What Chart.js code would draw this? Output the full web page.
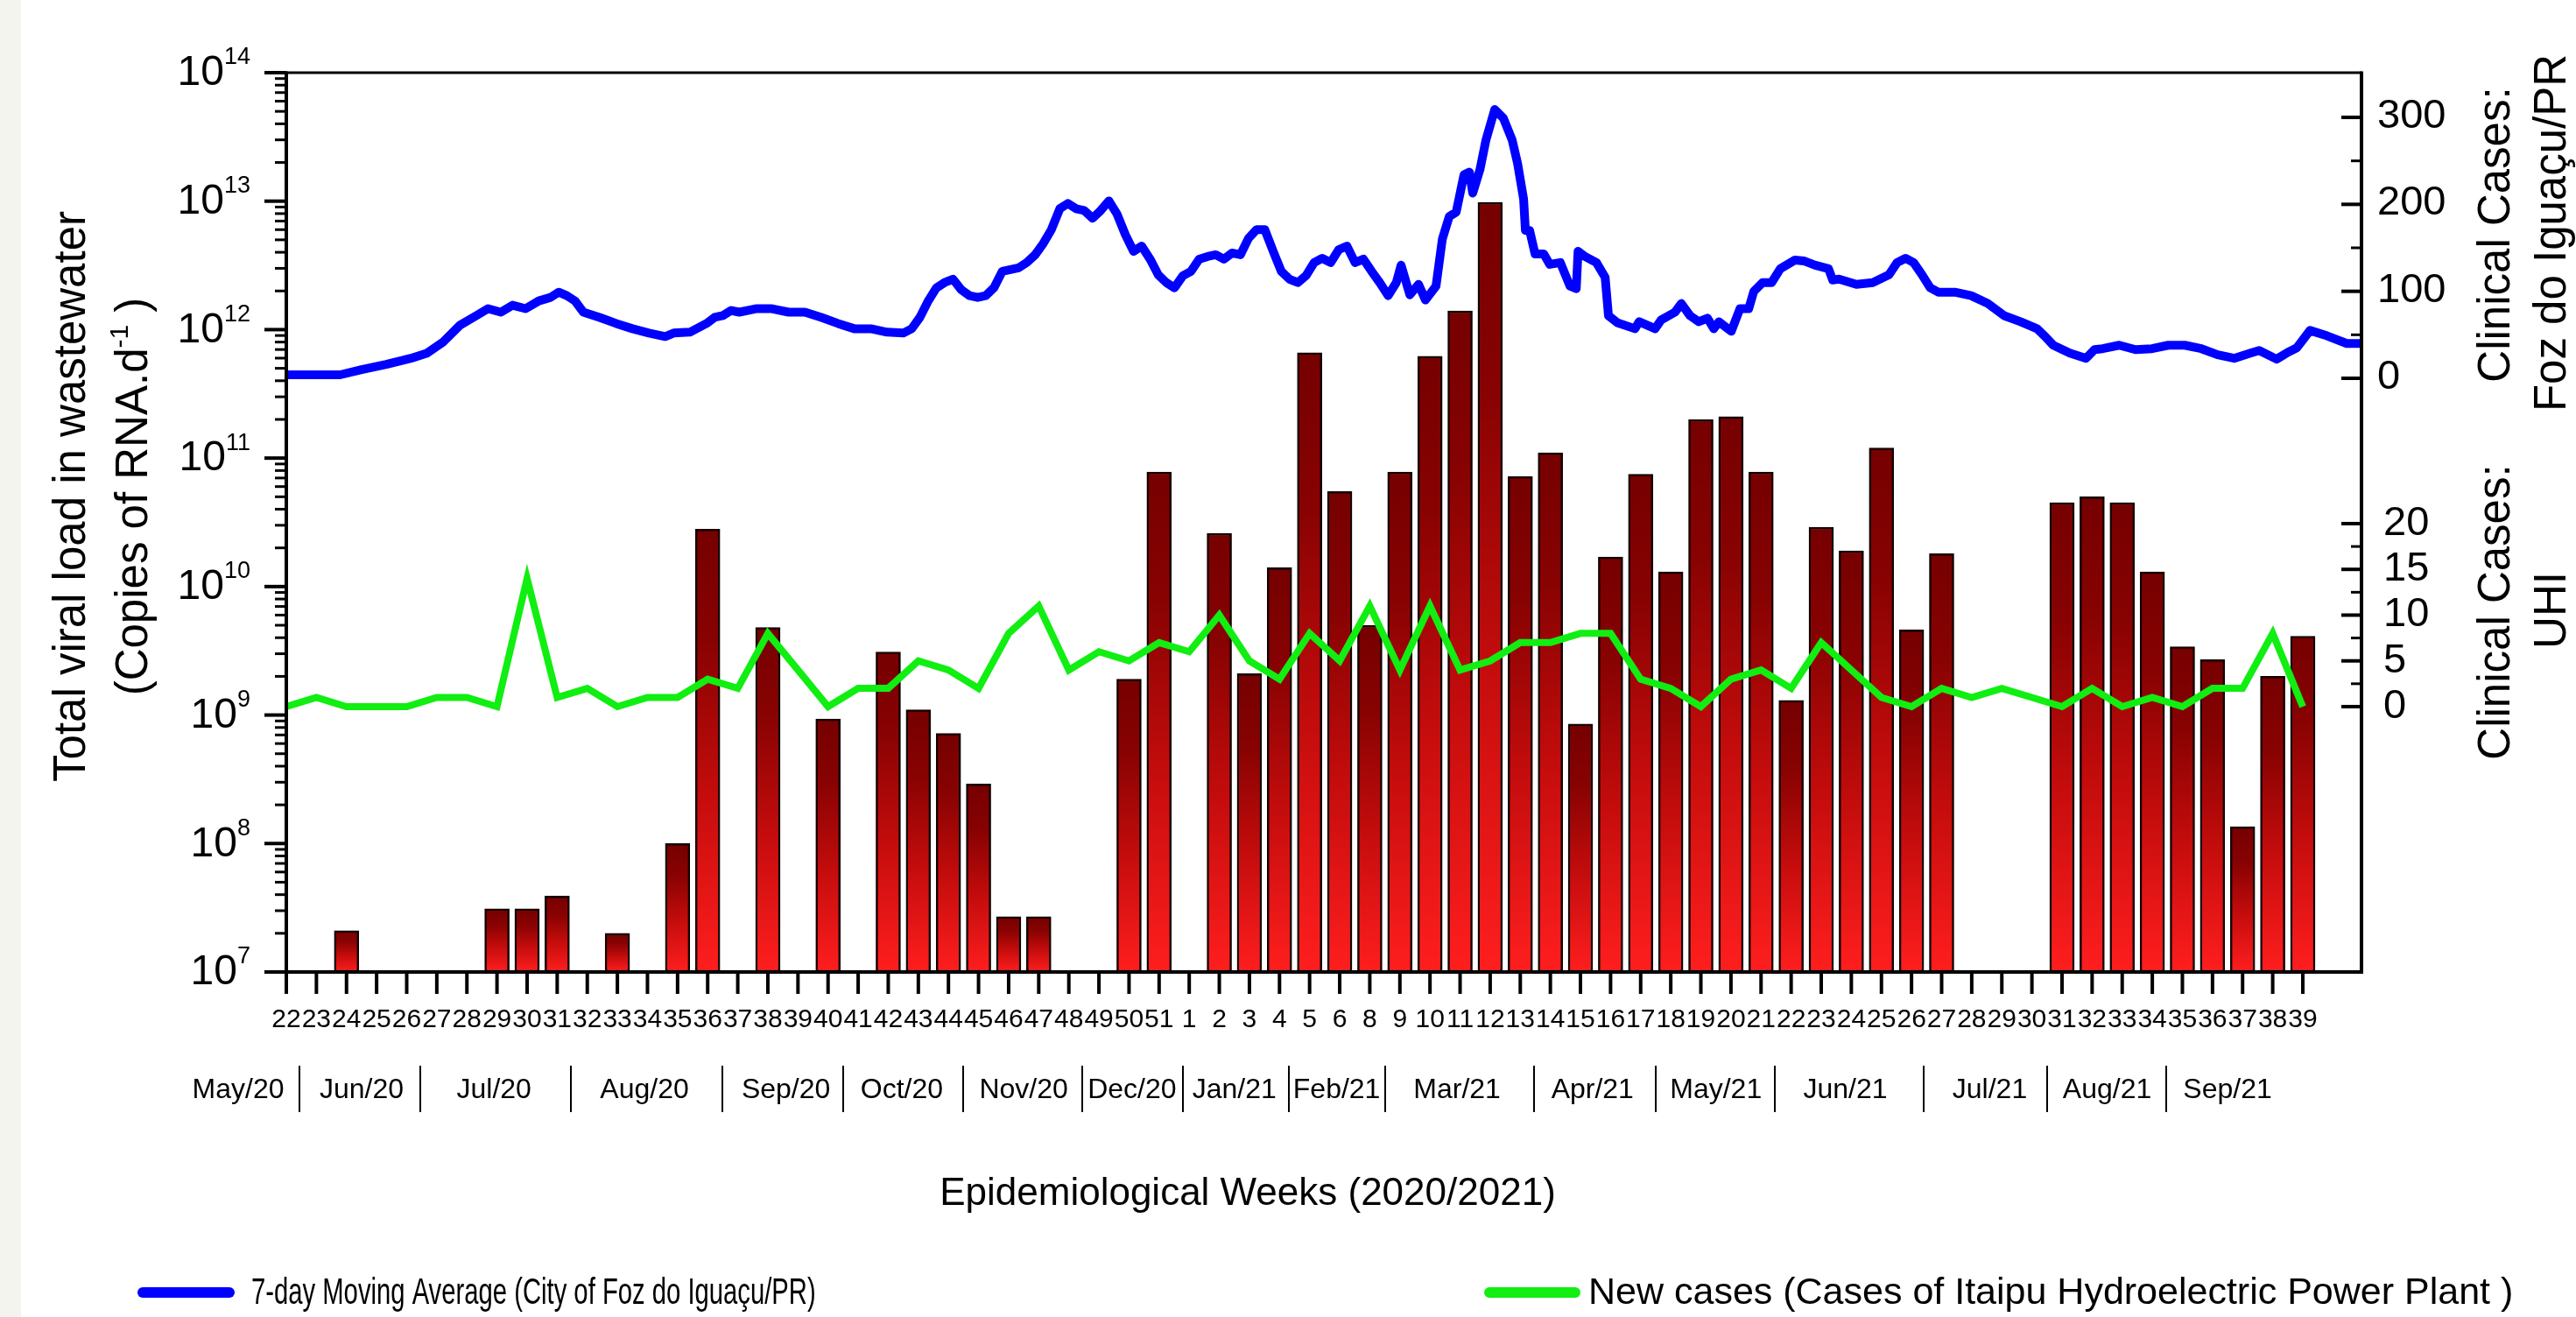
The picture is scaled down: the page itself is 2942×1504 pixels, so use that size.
<!DOCTYPE html>
<html>
<head>
<meta charset="utf-8">
<title>Viral load vs clinical cases</title>
<script src="https://cdn.jsdelivr.net/npm/chart.js@4.4.0/dist/chart.umd.min.js"></script>
<style>
  html, body { margin: 0; padding: 0; background: #fff; }
  canvas { display: block; }
</style>
</head>
<body>
<canvas id="myChart" width="2942" height="1504"></canvas>
<script>
// epidemiological week labels (2020: 22-51, 2021: 1-39 without 7)
var weekLabels = ['22','23','24','25','26','27','28','29','30','31','32','33','34','35','36','37','38','39','40','41',
  '42','43','44','45','46','47','48','49','50','51','1','2','3','4','5','6','8','9','10','11',
  '12','13','14','15','16','17','18','19','20','21','22','23','24','25','26','27','28','29','30','31',
  '32','33','34','35','36','37','38','39'];

var monthLabels = ['May/20','Jun/20','Jul/20','Aug/20','Sep/20','Oct/20','Nov/20','Dec/20','Jan/21',
  'Feb/21','Mar/21','Apr/21','May/21','Jun/21','Jul/21','Aug/21','Sep/21'];
// centre of each month label, in week-index units
var monthCenters = [-1.6, 2.5, 6.9, 11.9, 16.6, 20.45, 24.5, 28.1, 31.5, 34.9, 38.9, 43.4, 47.5, 51.8, 56.6, 60.5, 64.5];
// separators between month labels, in week-index units
var monthBreaks = [0.45, 4.45, 9.45, 14.5, 18.5, 22.5, 26.45, 29.8, 33.3, 36.5, 41.45, 45.5, 49.45, 54.4, 58.5, 62.45];

// total viral load in wastewater (copies of RNA per day), one per week, null = no sample
var viralLoad = [null, null, 2.1e7, null, null, null, null, 3.1e7, 3.1e7, 3.9e7,
  null, 2.0e7, null, 1.0e8, 2.8e10, null, 4.8e9, null, 9.3e8, null,
  3.1e9, 1.1e9, 7.2e8, 2.9e8, 2.7e7, 2.7e7, null, null, 1.9e9, 7.8e10,
  null, 2.6e10, 2.1e9, 1.4e10, 6.6e11, 5.5e10, 5.0e9, 7.8e10, 6.2e11, 1.4e12,
  9.8e12, 7.2e10, 1.1e11, 8.5e8, 1.7e10, 7.5e10, 1.3e10, 2.0e11, 2.1e11, 7.8e10,
  1.3e9, 2.9e10, 1.9e10, 1.2e11, 4.6e9, 1.8e10, null, null, null, 4.5e10,
  5.0e10, 4.5e10, 1.3e10, 3.4e9, 2.7e9, 1.35e8, 2.0e9, 4.1e9];

// new cases at the Itaipu hydroelectric plant (UHI), one per week
var uhiCases = [0, 1, 0, 0, 0, 1, 1, 0, 14, 1,
  2, 0, 1, 1, 3, 2, 8, 4, 0, 2,
  2, 5, 4, 2, 8, 11, 4, 6, 5, 7,
  6, 10, 5, 3, 8, 5, 11, 4, 11, 4,
  5, 7, 7, 8, 8, 3, 2, 0, 3, 4,
  2, 7, 4, 1, 0, 2, 1, 2, 1, 0,
  2, 0, 1, 0, 2, 2, 8, 0];

// 7-day moving average of cases in Foz do Iguacu, sampled along the week axis
var fozWeekPos = [0, 1.79, 2.5, 3.32, 4.14, 4.68, 5.22, 5.77, 6.31, 6.70,
  7.13, 7.52, 7.95, 8.39, 8.78, 9.05, 9.32, 9.59, 9.87, 10.41,
  10.96, 11.50, 12.05, 12.59, 12.87, 13.41, 13.96, 14.23, 14.50, 14.78,
  15.05, 15.60, 16.14, 16.69, 17.23, 17.78, 18.33, 18.87, 19.42, 19.96,
  20.5, 20.78, 21.05, 21.33, 21.6, 21.87, 22.15, 22.42, 22.7, 22.97,
  23.24, 23.51, 23.79, 24.33, 24.60, 24.88, 25.15, 25.42, 25.70, 25.97,
  26.24, 26.51, 26.79, 27.06, 27.33, 27.6, 27.88, 28.15, 28.42, 28.70,
  28.97, 29.24, 29.51, 29.79, 30.06, 30.33, 30.61, 30.88, 31.15, 31.42,
  31.70, 31.97, 32.24, 32.51, 32.79, 33.06, 33.33, 33.61, 33.88, 34.15,
  34.42, 34.70, 34.97, 35.24, 35.51, 35.79, 36.06, 36.33, 36.61, 36.88,
  37.04, 37.33, 37.62, 37.85, 38.20, 38.41, 38.64, 38.87, 39.13, 39.31,
  39.42, 39.66, 39.86, 40.15, 40.44, 40.73, 40.91, 41.11, 41.17, 41.31,
  41.49, 41.78, 41.98, 42.33, 42.65, 42.86, 42.92, 43.15, 43.53, 43.82,
  43.93, 44.22, 44.81, 44.95, 45.48, 45.68, 46.14, 46.35, 46.64, 46.93,
  47.22, 47.43, 47.60, 48.01, 48.30, 48.59, 48.76, 49.05, 49.35, 49.64,
  50.13, 50.42, 50.80, 51.24, 51.38, 51.59, 52.17, 52.71, 53.25, 53.52,
  53.80, 54.07, 54.35, 54.62, 54.89, 55.44, 55.98, 56.53, 57.08, 57.62,
  58.17, 58.44, 58.71, 59.26, 59.80, 60.08, 60.35, 60.90, 61.44, 61.99,
  62.53, 63.08, 63.63, 64.17, 64.72, 65.26, 65.55, 66.13, 66.51, 66.80,
  67.24, 67.79, 68.46, 68.95];
var fozAvg = [4, 4, 10, 16, 23, 29, 42, 61, 72, 80,
  76, 84, 80, 89, 93, 99, 95, 89, 76, 70,
  63, 57, 52, 48, 52, 53, 63, 70, 72, 78,
  76, 80, 80, 76, 76, 70, 63, 57, 57, 53,
  52, 57, 70, 89, 104, 110, 114, 102, 95, 93,
  95, 104, 123, 127, 133, 142, 155, 171, 195, 201,
  195, 193, 184, 193, 204, 189, 165, 146, 152, 137,
  119, 110, 104, 118, 123, 137, 140, 142, 137, 144,
  142, 161, 171, 171, 146, 123, 114, 110, 118, 133,
  138, 133, 148, 152, 133, 137, 123, 110, 95, 110,
  130, 96, 108, 90, 106, 160, 186, 191, 234, 237,
  213, 240, 274, 309, 299, 274, 247, 206, 170, 170,
  143, 143, 131, 133, 106, 103, 146, 140, 133, 116,
  72, 64, 57, 65, 57, 67, 76, 86, 72, 65,
  69, 57, 65, 54, 80, 80, 100, 110, 110, 126,
  136, 135, 130, 126, 113, 114, 108, 110, 119, 133,
  138, 133, 119, 104, 99, 99, 95, 86, 72, 65,
  57, 48, 38, 29, 23, 33, 34, 38, 33, 34,
  38, 38, 34, 27, 23, 29, 32, 22, 30, 35,
  55, 49, 40, 40];

var leftExponents = [7, 8, 9, 10, 11, 12, 13, 14];
var fozTicks = [0, 100, 200, 300];
var uhiTicks = [0, 5, 10, 15, 20];

var FONT = '"Liberation Sans", Arial, Helvetica, sans-serif';

function line(c, x1, y1, x2, y2) {
  c.beginPath();
  c.moveTo(x1, y1);
  c.lineTo(x2, y2);
  c.stroke();
}

function rotText(c, text, x, y, size) {
  c.save();
  c.translate(x, y);
  c.rotate(-Math.PI / 2);
  c.font = size + 'px ' + FONT;
  c.textAlign = 'center';
  c.textBaseline = 'alphabetic';
  c.fillText(text, 0, 0);
  c.restore();
}

function barGradient(ctx) {
  var chart = ctx.chart;
  var area = chart.chartArea;
  if (!area || !ctx.raw || !chart.scales.y) return '#b00000';
  var top = chart.scales.y.getPixelForValue(ctx.raw.y);
  if (!isFinite(top)) return '#b00000';
  var g = chart.ctx.createLinearGradient(0, top, 0, area.bottom);
  g.addColorStop(0, '#760000');
  g.addColorStop(0.25, '#880202');
  g.addColorStop(0.6, '#c40c0c');
  g.addColorStop(1, '#ff1e1e');
  return g;
}

var axesPlugin = {
  id: 'axesPlugin',
  beforeDraw: function(chart) {
    var c = chart.ctx;
    c.save();
    c.fillStyle = '#ffffff';
    c.fillRect(0, 0, chart.width, chart.height);
    c.fillStyle = '#f3f4ee';
    c.fillRect(0, 0, 24, chart.height);
    c.restore();
  },
  afterDraw: function(chart) {
    var c = chart.ctx, a = chart.chartArea;
    var sx = chart.scales.x, sy = chart.scales.y, sf = chart.scales.yFoz, su = chart.scales.yUhi;
    c.save();
    c.strokeStyle = '#000';
    c.fillStyle = '#000';

    // frame
    c.lineWidth = 3;
    line(c, a.left, a.top, a.right, a.top);
    c.lineWidth = 4;
    line(c, a.left, a.top - 1.5, a.left, a.bottom + 2);
    line(c, a.right, a.top - 1.5, a.right, a.bottom + 2);
    line(c, a.left - 2, a.bottom, a.right + 2, a.bottom);

    // left log axis ticks
    leftExponents.forEach(function(e) {
      var p = sy.getPixelForValue(Math.pow(10, e));
      c.lineWidth = 4;
      line(c, a.left, p, a.left - 25, p);
      if (e < 14) {
        for (var k = 2; k <= 9; k++) {
          var q = sy.getPixelForValue(k * Math.pow(10, e));
          c.lineWidth = 3;
          line(c, a.left, q, a.left - 13, q);
        }
      }
      // label 10^e
      c.textBaseline = 'middle';
      c.font = '27px ' + FONT;
      var sup = String(e);
      var ws = c.measureText(sup).width;
      c.textAlign = 'right';
      c.fillText(sup, 286, p - 17);
      c.font = '48px ' + FONT;
      c.fillText('10', 286 - ws, p + 1);
    });

    // bottom week ticks and labels
    c.font = '30px ' + FONT;
    c.textAlign = 'center';
    c.textBaseline = 'middle';
    weekLabels.forEach(function(lab, i) {
      var p = sx.getPixelForValue(i);
      c.lineWidth = 4;
      line(c, p, a.bottom, p, a.bottom + 25);
      c.fillText(lab, p, 1165);
    });

    // month labels with separators
    c.font = '32px ' + FONT;
    monthLabels.forEach(function(lab, i) {
      c.fillText(lab, sx.getPixelForValue(monthCenters[i]), 1245);
    });
    c.lineWidth = 2;
    monthBreaks.forEach(function(b) {
      var p = Math.round(sx.getPixelForValue(b));
      line(c, p, 1217, p, 1270);
    });

    // right axis: Foz do Iguacu cases
    for (var v = 0; v <= 300; v += 50) {
      var p = sf.getPixelForValue(v);
      var major = v % 100 === 0;
      c.lineWidth = major ? 4 : 3;
      line(c, a.right, p, a.right - (major ? 23 : 12), p);
    }
    c.font = '47px ' + FONT;
    c.textAlign = 'left';
    fozTicks.forEach(function(t) {
      c.fillText(String(t), 2715, sf.getPixelForValue(t) - 1);
    });

    // right axis: UHI cases
    for (var u = 0; u <= 20; u += 2.5) {
      var pu = su.getPixelForValue(u);
      var maj = u % 5 === 0;
      c.lineWidth = maj ? 4 : 3;
      line(c, a.right, pu, a.right - (maj ? 23 : 12), pu);
    }
    uhiTicks.forEach(function(t) {
      c.fillText(String(t), 2722, su.getPixelForValue(t));
    });

    // axis titles
    rotText(c, 'Total viral load in wastewater', 97, 567, 51);
    c.save();
    c.translate(168, 567);
    c.rotate(-Math.PI / 2);
    c.textBaseline = 'alphabetic';
    c.textAlign = 'left';
    c.font = '51px ' + FONT;
    var t1 = '(Copies of RNA.d', t3 = ' )';
    var w1 = c.measureText(t1).width, w3 = c.measureText(t3).width;
    c.font = '30px ' + FONT;
    var w2 = c.measureText('-1').width;
    var x0 = -(w1 + w2 + w3) / 2;
    c.font = '51px ' + FONT;
    c.fillText(t1, x0, 0);
    c.font = '30px ' + FONT;
    c.fillText('-1', x0 + w1, -22);
    c.font = '51px ' + FONT;
    c.fillText(t3, x0 + w1 + w2, 0);
    c.restore();

    rotText(c, 'Clinical Cases:', 2866, 268, 51);
    rotText(c, 'Foz do Igua\u00e7u/PR', 2930, 266, 51);
    rotText(c, 'Clinical Cases:', 2866, 699, 51);
    rotText(c, 'UHI', 2930, 697, 51);

    c.font = '44px ' + FONT;
    c.textAlign = 'center';
    c.textBaseline = 'middle';
    c.fillText('Epidemiological Weeks (2020/2021)', 1425, 1364);

    // legend
    c.lineCap = 'round';
    c.lineWidth = 12;
    c.strokeStyle = '#0000ff';
    line(c, 163, 1476, 262, 1476);
    c.strokeStyle = '#11ee11';
    line(c, 1701, 1476, 1799, 1476);
    c.font = '43px ' + FONT;
    c.textAlign = 'left';
    // first legend entry is set in a condensed face in the original
    c.save();
    c.translate(287, 1477);
    c.scale(0.68, 1);
    c.fillText('7-day Moving Average (City of Foz do Igua\u00e7u/PR)', 0, 0);
    c.restore();
    c.fillText('New cases (Cases of Itaipu Hydroelectric Power Plant )', 1814, 1477);
    c.restore();
  }
};

var barPoints = [];
viralLoad.forEach(function(v, i) {
  if (v !== null) barPoints.push({ x: i, y: v });
});
var uhiPoints = uhiCases.map(function(v, i) { return { x: i, y: v }; });
var fozPoints = fozWeekPos.map(function(p, i) { return { x: p, y: fozAvg[i] }; });

var ctx = document.getElementById('myChart').getContext('2d');
var myChart = new Chart(ctx, {
  type: 'bar',
  data: {
    datasets: [{
      type: 'line',
      label: '7-day Moving Average (City of Foz do Iguaçu/PR)',
      data: fozPoints,
      yAxisID: 'yFoz',
      borderColor: '#0000ff',
      borderWidth: 10,
      borderJoinStyle: 'round',
      borderCapStyle: 'round',
      pointRadius: 0,
      tension: 0
    }, {
      type: 'line',
      label: 'New cases (Cases of Itaipu Hydroelectric Power Plant )',
      data: uhiPoints,
      yAxisID: 'yUhi',
      borderColor: '#11ee11',
      borderWidth: 8,
      borderJoinStyle: 'miter',
      borderCapStyle: 'butt',
      pointRadius: 0,
      tension: 0
    }, {
      type: 'bar',
      label: 'Total viral load',
      data: barPoints,
      yAxisID: 'y',
      barThickness: 28,
      backgroundColor: barGradient,
      borderColor: '#140000',
      borderWidth: 2.5,
      borderSkipped: false
    }]
  },
  options: {
    responsive: false,
    animation: false,
    events: [],
    layout: { padding: { left: 327, right: 245, top: 83, bottom: 394 } },
    plugins: {
      legend: { display: false },
      title: { display: false },
      tooltip: { enabled: false }
    },
    scales: {
      x: { type: 'linear', min: 0, max: 68.95, display: false, offset: false },
      y: { type: 'logarithmic', min: 1e7, max: 1e14, display: false },
      yFoz: { type: 'linear', min: -682.7, max: 351.4, display: false },
      yUhi: { type: 'linear', min: -29.0, max: 69.28, display: false }
    }
  },
  plugins: [axesPlugin]
});
</script>
</body>
</html>
